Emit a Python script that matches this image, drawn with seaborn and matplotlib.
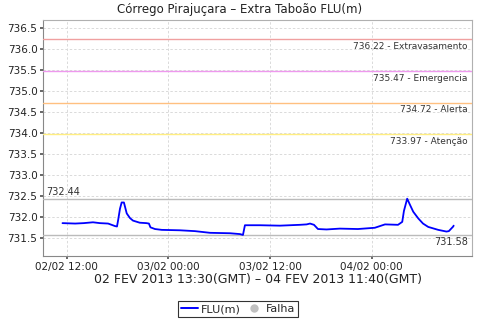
import matplotlib
matplotlib.use("Agg")
import matplotlib.pyplot as plt
import matplotlib.dates as mdates
from matplotlib.lines import Line2D
import seaborn as sns
import pandas as pd

# ---- data (local time) ----
times = [
    "2013-02-02 11:30", "2013-02-02 13:00", "2013-02-02 14:00", "2013-02-02 15:06",
    "2013-02-02 15:55", "2013-02-02 16:53", "2013-02-02 17:42", "2013-02-02 17:56",
    "2013-02-02 18:05", "2013-02-02 18:17", "2013-02-02 18:29", "2013-02-02 18:45",
    "2013-02-02 19:05", "2013-02-02 19:28", "2013-02-02 19:49", "2013-02-02 20:37",
    "2013-02-02 21:24", "2013-02-02 21:42", "2013-02-02 21:53", "2013-02-02 22:25",
    "2013-02-02 23:13", "2013-02-03 01:22", "2013-02-03 03:08", "2013-02-03 04:55",
    "2013-02-03 07:16", "2013-02-03 08:27", "2013-02-03 08:48", "2013-02-03 09:02",
    "2013-02-03 10:48", "2013-02-03 13:10", "2013-02-03 15:32", "2013-02-03 16:19",
    "2013-02-03 16:43", "2013-02-03 17:11", "2013-02-03 17:39", "2013-02-03 18:40",
    "2013-02-03 20:14", "2013-02-03 22:22", "2013-02-04 00:22", "2013-02-04 01:34",
    "2013-02-04 03:06", "2013-02-04 03:36", "2013-02-04 03:48", "2013-02-04 04:11",
    "2013-02-04 04:30", "2013-02-04 04:54", "2013-02-04 05:30", "2013-02-04 06:03",
    "2013-02-04 06:40", "2013-02-04 07:51", "2013-02-04 08:49", "2013-02-04 09:06",
    "2013-02-04 09:37", "2013-02-04 09:40",
]
flu = [
    731.86, 731.85, 731.86, 731.88,
    731.86, 731.85, 731.79, 731.78,
    731.95, 732.20, 732.35, 732.35,
    732.09, 731.98, 731.92, 731.87,
    731.86, 731.85, 731.76, 731.72,
    731.70, 731.69, 731.67, 731.63,
    731.62, 731.60, 731.58, 731.81,
    731.81, 731.80, 731.82, 731.83,
    731.85, 731.82, 731.72, 731.71,
    731.73, 731.72, 731.75, 731.83,
    731.82, 731.89, 732.15, 732.44,
    732.30, 732.13, 731.97, 731.85,
    731.77, 731.70, 731.66, 731.67,
    731.78, 731.80,
]
threshold_values = [736.22, 735.47, 734.72, 733.97]
threshold_names = ["Extravasamento", "Emergencia", "Alerta", "Atenção"]
threshold_colors = ["#F0A0A0", "#EE99EE", "#FFC080", "#FFEE80"]
max_val = 732.44
min_val = 731.58
title = "Córrego Pirajuçara – Extra Taboão FLU(m)"
xlabel = "02 FEV 2013 13:30(GMT) – 04 FEV 2013 11:40(GMT)"

df = pd.DataFrame({"t": pd.to_datetime(times), "FLU(m)": flu})

sns.set_theme(style="white")
plt.rcParams["font.family"] = ["DejaVu Sans"]

fig = plt.figure(figsize=(4.8, 3.2), dpi=100)
ax = fig.add_axes([43 / 480, 64 / 320, 429 / 480, 236 / 320])

sns.lineplot(data=df, x="t", y="FLU(m)", ax=ax, color="#0000FF", linewidth=1.3, zorder=5)

ax.set_ylim(731.08, 736.68)
ax.set_xlim(pd.Timestamp("2013-02-02 09:12"), pd.Timestamp("2013-02-04 11:50"))
ax.set_yticks([731.5 + 0.5 * i for i in range(11)])
ax.yaxis.set_major_formatter(matplotlib.ticker.FormatStrFormatter("%.1f"))
ax.xaxis.set_major_locator(mdates.HourLocator(byhour=[0, 12]))
ax.xaxis.set_major_formatter(mdates.DateFormatter("%d/%m %H:%M"))

ax.grid(True, color="#DADADA", linestyle=(0, (2.5, 2)), linewidth=0.7)
for s in ax.spines.values():
    s.set_color("#B0B0B0")
    s.set_linewidth(0.8)
ax.spines["left"].set_color("#888888")
ax.spines["bottom"].set_color("#888888")
ax.tick_params(axis="both", labelsize=7.5, colors="#555555", length=2, pad=2,
               left=True, bottom=True)
ax.tick_params(axis="both", labelcolor="#222222")

trans = ax.get_yaxis_transform()
for v, n, c in zip(threshold_values, threshold_names, threshold_colors):
    ax.axhline(v, color=c, linewidth=1.0, zorder=3)
    ax.text(0.99, v - 0.06, f"{v:.2f} - {n}", transform=trans, ha="right", va="top",
            fontsize=6.5, color="#333333")

ax.axhline(max_val, color="#BBBBBB", linewidth=1.0, zorder=3)
ax.axhline(min_val, color="#BBBBBB", linewidth=1.0, zorder=3)
ax.text(0.008, max_val + 0.05, f"{max_val:.2f}", transform=trans, ha="left", va="bottom",
        fontsize=7, color="#333333")
ax.text(0.99, min_val - 0.06, f"{min_val:.2f}", transform=trans, ha="right", va="top",
        fontsize=7, color="#333333")

ax.set_ylabel("")
ax.set_xlabel(xlabel, fontsize=9, color="#222222", labelpad=1)
fig.suptitle(title, x=0.5, y=1 - 10 / 320, va="center", fontsize=8.5, color="#222222")

handles = [
    Line2D([0], [0], color="#0000FF", linewidth=1.4),
    Line2D([0], [0], marker="o", color="none", markerfacecolor="#C0C0C0",
           markeredgecolor="#C0C0C0", markersize=5),
]
leg = fig.legend(handles, ["FLU(m)", "Falha"], loc="center",
                 bbox_to_anchor=(238 / 480, 1 - 309 / 320), ncol=2, fontsize=8,
                 frameon=True, fancybox=False, handlelength=1.5, handletextpad=0.3,
                 columnspacing=0.4, borderpad=0.25, borderaxespad=0)
leg.get_frame().set_edgecolor("black")
leg.get_frame().set_linewidth(0.8)

fig.savefig("out.png", dpi=100)
